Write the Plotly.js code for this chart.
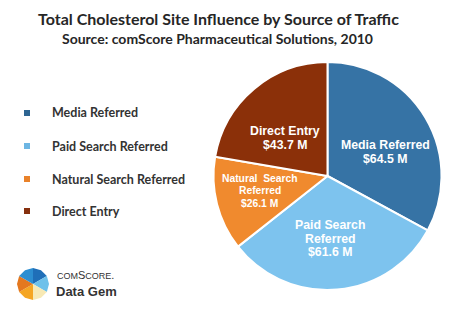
<!DOCTYPE html>
<html>
<head>
<meta charset="utf-8">
<script src="https://cdn.plot.ly/plotly-3.0.1.min.js"></script>
<style>html,body{margin:0;padding:0;background:#fff;}#chart{width:460px;height:322px;}</style>
</head>
<body>
<div id="chart"></div>
<script>
var categories = ["Media Referred", "Paid Search Referred", "Natural Search Referred", "Direct Entry"];
var sliceLabels = [["Media Referred"], ["Paid Search", "Referred"], ["Natural  Search", "Referred"], ["Direct Entry"]];
var values = [64.5, 61.6, 26.1, 43.7];
var colors = ["#3673A5", "#7DC3EE", "#F08A2E", "#8B3009"];
var legendColors = ["#2E6592", "#6DB6E3", "#E9822A", "#86300E"];
var titleText = "Total Cholesterol Site Influence by Source of Traffic";
var subtitleText = "Source: comScore Pharmaceutical Solutions, 2010";

var W = 460, H = 322;
var pieL = 213, pieR = 442, pieT = 62, pieB = 290;

var trace = {
  type: "pie",
  labels: categories,
  values: values,
  textinfo: "none",
  hoverinfo: "label+value",
  sort: false,
  direction: "clockwise",
  rotation: 0,
  marker: {colors: colors, line: {color: "#ffffff", width: 2}},
  domain: {x: [pieL/W, pieR/W], y: [1 - pieB/H, 1 - pieT/H]},
  showlegend: false
};

var annotations = [
  {text: "<b>" + titleText + "</b>", x: 218/W, y: 1 - 18/H, xref: "paper", yref: "paper", xanchor: "center", yanchor: "middle", showarrow: false, font: {family: "Lato, sans-serif", size: 16, color: "#262626"}},
  {text: "<b>" + subtitleText + "</b>", x: 217/W, y: 1 - 38/H, xref: "paper", yref: "paper", xanchor: "center", yanchor: "middle", showarrow: false, font: {family: "Lato, sans-serif", size: 14, color: "#262626"}}
];
var shapes = [];

// slice labels placed from the data (mid-angle of each slice)
var cxp = (pieL + pieR)/2, cyp = (pieT + pieB)/2, rad = Math.min(pieR - pieL, pieB - pieT)/2;
var angleShift = [8, 2.5, 2, -8];
var radFrac = [0.55, 0.55, 0.61, 0.5];
var labelSize = [12.3, 12.3, 10.3, 12.3];
var lineFactor = [1.12, 1.1, 1.2, 1.12];
var total = values.reduce(function(a, b){ return a + b; }, 0);
var cum = 0;
values.forEach(function(v, i){
  var mid = (cum + v/2) / total * 360 + angleShift[i];
  cum += v;
  var a = mid * Math.PI/180;
  var px = cxp + radFrac[i]*rad*Math.sin(a);
  var py = cyp - radFrac[i]*rad*Math.cos(a);
  var lines = sliceLabels[i].concat(["$" + v.toFixed(1) + " M"]);
  var lh = labelSize[i] * lineFactor[i];
  lines.forEach(function(t, j){
    var ly = py + (j - (lines.length - 1)/2) * lh;
    annotations.push({text: "<b>" + t + "</b>", x: px/W, y: 1 - ly/H, xref: "paper", yref: "paper", xanchor: "center", yanchor: "middle", showarrow: false, font: {family: "Liberation Sans, Arial, sans-serif", size: labelSize[i], color: "#ffffff"}});
  });
});

var legendY = [113, 146, 179, 211];
categories.forEach(function(c, i){
  annotations.push({text: "<b>" + c + "</b>", x: 50/W, y: 1 - legendY[i]/H, xref: "paper", yref: "paper", xanchor: "left", yanchor: "middle", showarrow: false, font: {family: "Lato, sans-serif", size: 12.5, color: "#333333"}});
  shapes.push({type: "rect", xref: "paper", yref: "paper", x0: 24/W, x1: 30/W, y0: 1 - (legendY[i]+3)/H, y1: 1 - (legendY[i]-3)/H, fillcolor: legendColors[i], line: {width: 0}});
});

// logo
var cx = 33, cy = 284, r = 16;
function P(x, y){ return (x/W) + "," + (1 - y/H); }
var logoCols = ["#1F6FB8", "#6EC1EA", "#F7E9B5", "#F5A623", "#E4781F", "#2C8ED1"];
var angs = [0, 60, 120, 180, 240, 300, 360];
for (var k = 0; k < 6; k++) {
  var a0 = (angs[k] - 90) * Math.PI/180, a1 = (angs[k+1] - 90) * Math.PI/180;
  shapes.push({type: "path", xref: "paper", yref: "paper",
    path: "M" + P(cx, cy) + " L" + P(cx + r*Math.cos(a0), cy + r*Math.sin(a0)) + " L" + P(cx + r*Math.cos((a0+a1)/2), cy + r*Math.sin((a0+a1)/2)) + " L" + P(cx + r*Math.cos(a1), cy + r*Math.sin(a1)) + " Z",
    fillcolor: logoCols[k], line: {width: 0}});
}
annotations.push({text: "<span style='font-size:9px'>COM</span>S<span style='font-size:9px'>CORE</span>.", x: 55/W, y: 1 - 275/H, xref: "paper", yref: "paper", xanchor: "left", yanchor: "middle", showarrow: false, font: {family: "Liberation Sans, Arial, sans-serif", size: 11, color: "#333333"}});
annotations.push({text: "<b>Data Gem</b>", x: 54/W, y: 1 - 291/H, xref: "paper", yref: "paper", xanchor: "left", yanchor: "middle", showarrow: false, font: {family: "Liberation Sans, Arial, sans-serif", size: 13, color: "#333333"}});

var layout = {
  width: W, height: H,
  margin: {l: 0, r: 0, t: 0, b: 0},
  paper_bgcolor: "#ffffff",
  annotations: annotations,
  shapes: shapes,
  showlegend: false
};
Plotly.newPlot("chart", [trace], layout, {displayModeBar: false, staticPlot: true});
</script>
</body>
</html>
